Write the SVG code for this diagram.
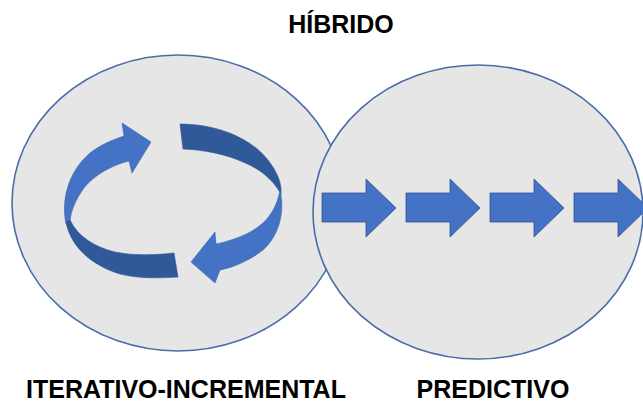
<svg xmlns="http://www.w3.org/2000/svg" width="643" height="405" viewBox="0 0 643 405">
  <style>
    .bubble { fill: #E6E6E6; stroke: #4A6DA7; stroke-width: 1.6; }
    .label { font-family: "Liberation Sans", Arial, sans-serif; font-weight: bold; font-size: 25px; fill: #000; text-anchor: middle; }
    .step { fill: #4472C4; stroke: #2F528F; stroke-width: 0.8; }
    .light { fill: #4472C4; stroke: #3A64AE; stroke-width: 0.6; }
    .dark { fill: #30599A; stroke: #2E5493; stroke-width: 0.6; }
  </style>
  <defs>
    <path id="blockArrow" d="M322,193 L366,193 L366,179 L396,208 L366,237 L366,222 L322,222 Z"/>
  </defs>

  <rect width="643" height="405" fill="#FFFFFF"/>

  <text class="label" x="341" y="33">HÍBRIDO</text>

  <!-- iterative-incremental cycle -->
  <g id="iterativo">
    <ellipse class="bubble" cx="178" cy="203" rx="166" ry="148"/>
    <!-- left curved arrow -->
    <path class="light" d="M66,224 C61,200 68,172 90,153 C100,145 112,140 124,136 L122,123 L151,142 L132,173 L129,161 C112,165 93,176 84,188 C76,199 71,210 70,221 Z"/>
    <path class="dark" d="M66,222 C70,245 90,265 120,274 C140,279 160,278 178,277 L174,253 C155,255 135,256 115,252 C95,247 78,237 70,220 Z"/>
    <!-- right curved arrow -->
    <path class="dark" d="M180,124 C215,124 250,137 268,160 C277,172 282,183 281,194 C272,178 258,168 243,162 C225,154 205,150 183,149 Z"/>
    <path class="light" d="M280,190 C285,210 280,235 263,250 C250,260 235,267 220,270 L215,283 L191,262 L215,232 L216,244 C235,240 255,232 266,220 C274,211 278,201 280,190 Z"/>
  </g>

  <!-- predictive sequence -->
  <g id="predictivo">
    <ellipse class="bubble" cx="478" cy="212" rx="165" ry="147"/>
    <use href="#blockArrow" class="step"/>
    <use href="#blockArrow" class="step" transform="translate(84,0)"/>
    <use href="#blockArrow" class="step" transform="translate(168,0)"/>
    <use href="#blockArrow" class="step" transform="translate(252,0)"/>
  </g>

  <text class="label" x="186" y="398">ITERATIVO-INCREMENTAL</text>
  <text class="label" x="493" y="398">PREDICTIVO</text>
</svg>
